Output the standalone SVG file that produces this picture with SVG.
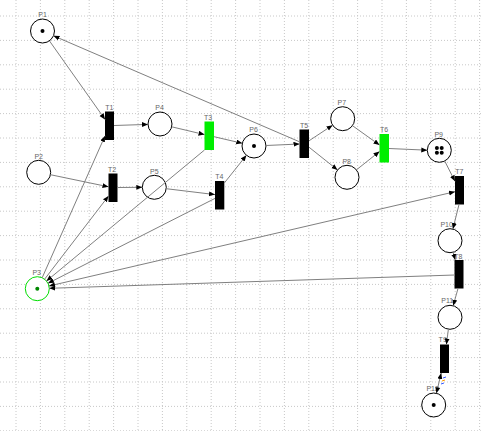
<svg xmlns="http://www.w3.org/2000/svg" width="482" height="431" viewBox="0 0 482 431">
<defs>
<marker id="ah" markerUnits="userSpaceOnUse" markerWidth="8" markerHeight="8" refX="6" refY="2.5" orient="auto">
<path d="M0,0 L6,2.5 L0,5 Z" fill="#000"/>
</marker>
<marker id="as" markerUnits="userSpaceOnUse" markerWidth="8" markerHeight="8" refX="0" refY="2.5" orient="auto">
<path d="M6,0 L0,2.5 L6,5 Z" fill="#000"/>
</marker>
</defs>
<style>
.grid line{stroke:#c8c8c8;stroke-width:1;stroke-dasharray:1 2}
.arc{stroke:#808080;stroke-width:1;fill:none;marker-end:url(#ah)}
.bi{marker-start:url(#as)}
.pl{fill:#fff;stroke:#000;stroke-width:1}
.tr{fill:#000}
.tg{fill:#00ee00}
.lb{font-family:"Liberation Sans",Arial,sans-serif;font-size:7px;fill:#666;text-anchor:middle}
.tk{fill:#000}
</style>
<rect width="482" height="431" fill="#fff"/>
<g class="grid">
<line x1="16" y1="0" x2="16" y2="431"/><line x1="40.4" y1="0" x2="40.4" y2="431"/><line x1="64.8" y1="0" x2="64.8" y2="431"/><line x1="89.2" y1="0" x2="89.2" y2="431"/><line x1="113.6" y1="0" x2="113.6" y2="431"/><line x1="138" y1="0" x2="138" y2="431"/><line x1="162.4" y1="0" x2="162.4" y2="431"/><line x1="186.8" y1="0" x2="186.8" y2="431"/><line x1="211.2" y1="0" x2="211.2" y2="431"/><line x1="235.6" y1="0" x2="235.6" y2="431"/><line x1="260" y1="0" x2="260" y2="431"/><line x1="284.4" y1="0" x2="284.4" y2="431"/><line x1="308.8" y1="0" x2="308.8" y2="431"/><line x1="333.2" y1="0" x2="333.2" y2="431"/><line x1="357.6" y1="0" x2="357.6" y2="431"/><line x1="382" y1="0" x2="382" y2="431"/><line x1="406.4" y1="0" x2="406.4" y2="431"/><line x1="430.8" y1="0" x2="430.8" y2="431"/><line x1="455.2" y1="0" x2="455.2" y2="431"/><line x1="479.6" y1="0" x2="479.6" y2="431"/>
<line x1="0" y1="16" x2="482" y2="16"/><line x1="0" y1="40.4" x2="482" y2="40.4"/><line x1="0" y1="64.8" x2="482" y2="64.8"/><line x1="0" y1="89.2" x2="482" y2="89.2"/><line x1="0" y1="113.6" x2="482" y2="113.6"/><line x1="0" y1="138" x2="482" y2="138"/><line x1="0" y1="162.4" x2="482" y2="162.4"/><line x1="0" y1="186.8" x2="482" y2="186.8"/><line x1="0" y1="211.2" x2="482" y2="211.2"/><line x1="0" y1="235.6" x2="482" y2="235.6"/><line x1="0" y1="260" x2="482" y2="260"/><line x1="0" y1="284.4" x2="482" y2="284.4"/><line x1="0" y1="308.8" x2="482" y2="308.8"/><line x1="0" y1="333.2" x2="482" y2="333.2"/><line x1="0" y1="357.6" x2="482" y2="357.6"/><line x1="0" y1="382" x2="482" y2="382"/><line x1="0" y1="406.4" x2="482" y2="406.4"/><line x1="0" y1="430.8" x2="482" y2="430.8"/>
</g>
<g id="P1"><circle class="pl" cx="42.5" cy="31" r="12"/><circle class="tk" cx="42.5" cy="31" r="2"/><text class="lb" x="42.5" y="17">P1</text></g>
<g id="P2"><circle class="pl" cx="38.7" cy="172.3" r="12"/><text class="lb" x="38.7" y="158.5">P2</text></g>
<g id="P3"><circle cx="37.3" cy="288.7" r="12" fill="#fff" stroke="#00dd00"/><circle cx="37.3" cy="288.7" r="2" fill="#008800"/><text class="lb" x="36.7" y="275">P3</text></g>
<g id="P4"><circle class="pl" cx="160" cy="124" r="12"/><text class="lb" x="159.5" y="110">P4</text></g>
<g id="P5"><circle class="pl" cx="154.3" cy="187.3" r="12"/><text class="lb" x="154.3" y="174">P5</text></g>
<g id="P6"><circle class="pl" cx="254" cy="146" r="12"/><circle class="tk" cx="254" cy="146" r="2"/><text class="lb" x="253.5" y="132">P6</text></g>
<g id="P7"><circle class="pl" cx="342.7" cy="118.7" r="12"/><text class="lb" x="341.8" y="104.7">P7</text></g>
<g id="P8"><circle class="pl" cx="347" cy="177.3" r="12"/><text class="lb" x="346.7" y="163.5">P8</text></g>
<g id="P9"><circle class="pl" cx="439.3" cy="150.3" r="12"/><circle class="tk" cx="436.9" cy="147.9" r="2"/><circle class="tk" cx="441.7" cy="147.9" r="2"/><circle class="tk" cx="436.9" cy="152.7" r="2"/><circle class="tk" cx="441.7" cy="152.7" r="2"/><text class="lb" x="438.7" y="136.5">P9</text></g>
<g id="P10"><circle class="pl" cx="450" cy="240.7" r="12"/><text class="lb" x="446.7" y="226.5">P10</text></g>
<g id="P11"><circle class="pl" cx="450" cy="317.3" r="12"/><text class="lb" x="447.3" y="303">P11</text></g>
<g id="P12"><circle class="pl" cx="433.7" cy="405" r="12"/><circle class="tk" cx="433.7" cy="405" r="2"/><text class="lb" x="432.7" y="391">P12</text></g>
<g id="T1"><rect class="tr" x="105" y="111.5" width="9" height="28.5"/><text class="lb" x="109.3" y="110">T1</text></g>
<g id="T2"><rect class="tr" x="108.5" y="173.5" width="9" height="28.5"/><text class="lb" x="112" y="171.5">T2</text></g>
<g id="T3"><rect class="tg" x="204.5" y="121.5" width="9.5" height="28.5"/><text class="lb" x="208" y="120">T3</text></g>
<g id="T4"><rect class="tr" x="215" y="181" width="9.3" height="28.5"/><text class="lb" x="219.3" y="178.7">T4</text></g>
<g id="T5"><rect class="tr" x="299.5" y="129.5" width="9.5" height="28.5"/><text class="lb" x="304" y="127.7">T5</text></g>
<g id="T6"><rect class="tg" x="379.5" y="134" width="9.5" height="28.5"/><text class="lb" x="384" y="132.3">T6</text></g>
<g id="T7"><rect class="tr" x="455" y="176" width="9" height="28.5"/><text class="lb" x="459.3" y="174">T7</text></g>
<g id="T8"><rect class="tr" x="454.5" y="260" width="9" height="28.5"/><text class="lb" x="458.3" y="259">T8</text></g>
<g id="T9"><rect class="tr" x="440" y="344.5" width="9" height="28.5"/><text class="lb" x="442.7" y="342.3">T9</text></g>
<g id="connectors">
<line class="arc" x1="49.4" y1="40.8" x2="105" y2="119.4"/>
<line class="arc" x1="299.5" y1="141.8" x2="53.5" y2="35.8"/>
<line class="arc" x1="114" y1="125.5" x2="148" y2="124.4"/>
<line class="arc" x1="171.7" y1="126.8" x2="204.5" y2="134.6"/>
<line class="arc" x1="214" y1="136.7" x2="242.3" y2="143.3"/>
<line class="arc" x1="42.2" y1="277.7" x2="105" y2="135.9"/>
<line class="arc" x1="50.4" y1="174.7" x2="108.5" y2="186.8"/>
<line class="arc" x1="44.6" y1="279.2" x2="108.5" y2="196"/>
<line class="arc" x1="117.5" y1="187.5" x2="142.3" y2="187.3"/>
<line class="arc" x1="166.2" y1="188.7" x2="215" y2="194.6"/>
<line class="arc" x1="224.3" y1="183" x2="246.4" y2="155.3"/>
<line class="arc" x1="204.5" y1="150" x2="46.5" y2="281"/>
<line class="arc" x1="215" y1="198.4" x2="48" y2="283.3"/>
<line class="arc bi" x1="49" y1="286" x2="455" y2="191.7"/>
<line class="arc" x1="454.5" y1="275" x2="49.3" y2="288.3"/>
<line class="arc" x1="266" y1="145.5" x2="299.5" y2="144"/>
<line class="arc" x1="309" y1="140.8" x2="332.6" y2="125.2"/>
<line class="arc" x1="309" y1="147.2" x2="337.5" y2="169.9"/>
<line class="arc" x1="352.5" y1="125.7" x2="379.5" y2="145"/>
<line class="arc" x1="356.4" y1="169.9" x2="379.5" y2="151.5"/>
<line class="arc" x1="389" y1="148.5" x2="427.3" y2="150.2"/>
<line class="arc" x1="444.7" y1="161" x2="455" y2="181.3"/>
<line class="arc" x1="459" y1="204.5" x2="452.9" y2="229"/>
<line class="arc" x1="453.1" y1="252.3" x2="455.2" y2="260"/>
<line class="arc" x1="458" y1="288.5" x2="453.2" y2="305.7"/>
<line class="arc" x1="448.4" y1="329.2" x2="446.4" y2="344.5"/>
<line class="arc bi" x1="436.4" y1="393.3" x2="441.2" y2="373"/>
<g stroke-width="1">
<line x1="443" y1="378" x2="446" y2="377" stroke="#3355ff"/>
<line x1="442" y1="381" x2="445" y2="380" stroke="#ff9900"/>
<line x1="441" y1="384" x2="444" y2="383" stroke="#3355ff"/>
</g>
</g>
</svg>
